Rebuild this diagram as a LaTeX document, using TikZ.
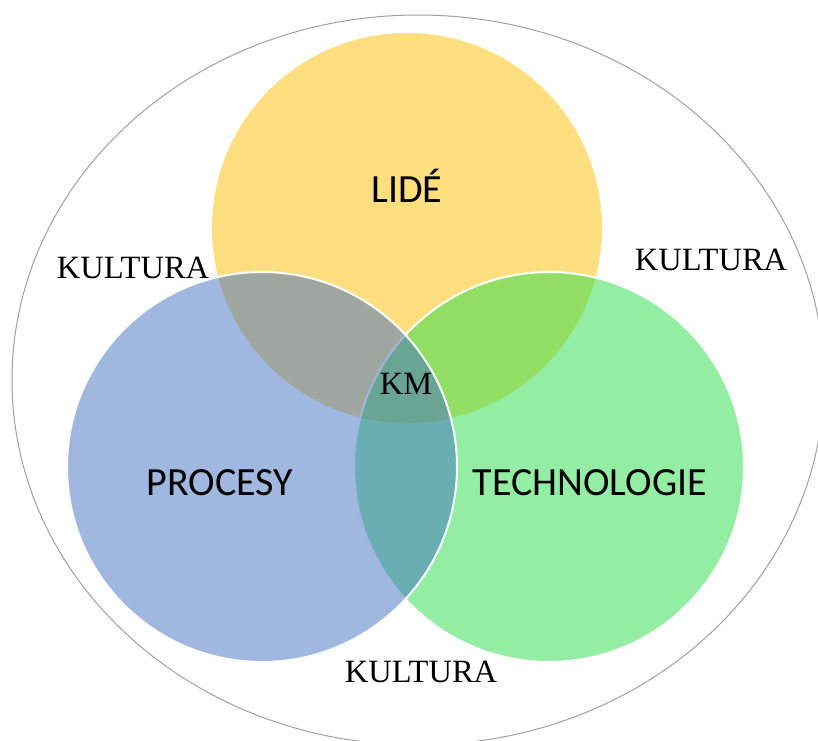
\documentclass[tikz,border=0pt]{standalone}
\usepackage{fontspec}
\setmainfont{Liberation Serif}
\newfontfamily\calfont{Carlito}
\definecolor{yel}{RGB}{255,222,128}
\definecolor{blu}{RGB}{65,111,193}
\definecolor{grn}{RGB}{39,221,73}
\definecolor{rim}{RGB}{160,160,160}
\begin{document}
\begin{tikzpicture}[x=1pt,y=-1pt,
  venn/.style={circle, inner sep=0pt, outer sep=0pt, minimum size=390pt},
  vennrim/.style={venn, draw=white, line width=2pt, fill opacity=0.5},
  circlabel/.style={font=\calfont\fontsize{40}{48}\selectfont, anchor=base, inner sep=0pt},
  culture/.style={font=\fontsize{32.5}{39}\selectfont, anchor=base, inner sep=0pt}]
\useasboundingbox (0,0) rectangle (818,740);
\draw[rim, line width=1pt] (418,380) ellipse [x radius=406, y radius=365];
\node[venn, fill=yel] (cyel) at (407,228) {};
\node[vennrim, fill=grn] (cgrn) at (549,467) {};
\node[vennrim, fill=blu] (cblu) at (262,467) {};
\node[circlabel] (lide) at (407,202) {LIDÉ};
\node[circlabel] (procesy) at (220,495) {PROCESY};
\node[circlabel] (tech) at (590,495) {TECHNOLOGIE};
\node[culture] (k1) at (133,278) {KULTURA};
\node[culture] (k2) at (711,270) {KULTURA};
\node[culture] (k3) at (421,682) {KULTURA};
\node[culture] (km) at (406,394) {KM};
\end{tikzpicture}
\end{document}
